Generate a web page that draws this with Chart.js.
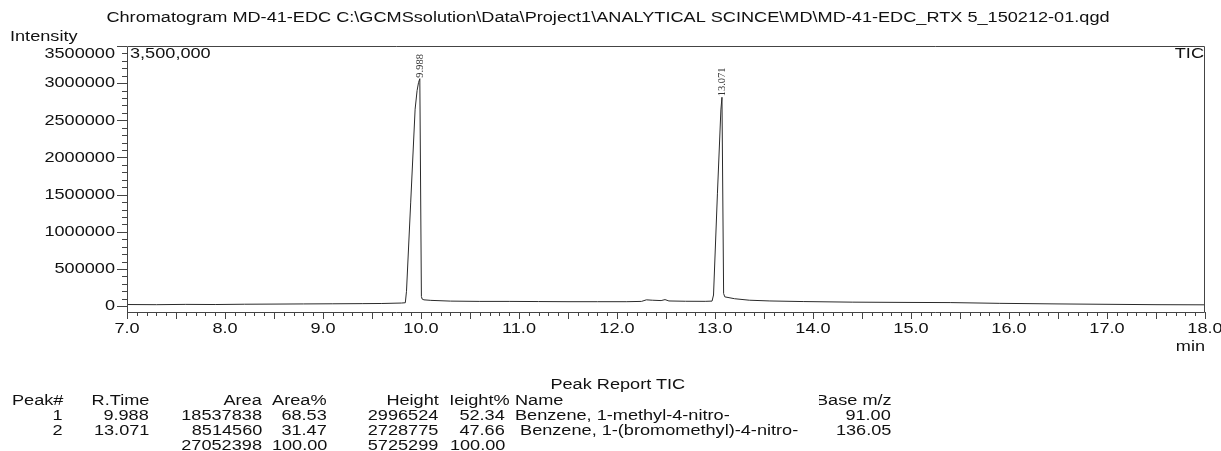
<!DOCTYPE html>
<html>
<head>
<meta charset="utf-8">
<script src="https://cdn.jsdelivr.net/npm/chart.js@4.4.1/dist/chart.umd.min.js"></script>
<style>
  html, body { margin: 0; padding: 0; background: #fff; }
  #wrap { position: relative; width: 1221px; height: 451px; overflow: hidden; }
  #c { position: absolute; left: 0; top: 0; }
  .t { position: absolute; font-family: "Liberation Sans", Arial, sans-serif; font-size: 15.5px; color: #111; white-space: pre; line-height: 16px; }
  .clip { position: absolute; overflow: hidden; height: 18px; }
</style>
</head>
<body>
<div id="wrap">
  <canvas id="c" width="1221" height="451"></canvas>
</div>
<script>
// ---------- data ----------
const chartTitle = 'Chromatogram MD-41-EDC C:\\GCMSsolution\\Data\\Project1\\ANALYTICAL SCINCE\\MD\\MD-41-EDC_RTX 5_150212-01.qgd';
const yAxisTitle = 'Intensity';
const xAxisTitle = 'min';
const scaleLabel = '3,500,000';
const traceLabel = 'TIC';

// retention time (min)
const times = [
  7.00, 7.30, 7.60, 7.90, 8.20, 8.50, 8.80, 9.10, 9.40, 9.60, 9.80, 9.84,
  9.852, 9.895, 9.940, 9.960, 9.975, 9.988, 10.004, 10.012, 10.03,
  10.10, 10.30, 10.60, 10.90, 11.20, 11.50, 11.80, 12.10, 12.25, 12.30, 12.36, 12.45, 12.49, 12.53,
  12.70, 12.90, 12.97, 12.985, 13.025, 13.060, 13.071, 13.088,
  13.10, 13.20, 13.35, 13.56, 13.90, 14.40, 15.00, 15.40, 15.90, 16.50, 17.00, 17.50, 18.00
];
// TIC intensity
const intensity = [
  22000, 20000, 24000, 22000, 26000, 28000, 30000, 32000, 34000, 36000, 42000, 46000,
  200000, 1400000, 2650000, 2900000, 3010000, 3060000, 130000, 95000, 85000,
  78000, 68000, 64000, 64000, 62000, 60000, 60000, 60000, 64000, 85000, 80000, 75000, 88000, 70000,
  66000, 65000, 68000, 150000, 1520000, 2640000, 2810000, 170000,
  125000, 100000, 80000, 70000, 62000, 54000, 50000, 48000, 38000, 30000, 25000, 20000, 18000
];

const peakTimes = [9.988, 13.071];
const peakLabels = ['9.988', '13.071'];

const xTickLabels = ['7.0','8.0','9.0','10.0','11.0','12.0','13.0','14.0','15.0','16.0','17.0','18.0'];
const yTickLabels = ['0','500000','1000000','1500000','2000000','2500000','3000000','3500000'];

// peak report table
const reportTitle = 'Peak Report TIC';
const colHeaders = ['Peak#', 'R.Time', 'Area', 'Area%', 'Height', 'Height%', 'Name', 'Base m/z'];
const peakNums = ['1', '2'];
const rTimes = ['9.988', '13.071'];
const areas = ['18537838', '8514560'];
const areaPct = ['68.53', '31.47'];
const heights = ['2996524', '2728775'];
const heightPct = ['52.34', '47.66'];
const names = ['Benzene, 1-methyl-4-nitro-', ' Benzene, 1-(bromomethyl)-4-nitro-'];
const baseMz = ['91.00', '136.05'];
const totals = ['27052398', '100.00', '5725299', '100.00'];

// ---------- drawing ----------
const SX = 1.17;
const FONT = '15.5px "Liberation Sans", Arial, sans-serif';

function stretchedText(ctx, text, x, y, align, font, sx) {
  ctx.save();
  ctx.font = font;
  ctx.translate(x, y);
  ctx.scale(sx, 1);
  ctx.textAlign = align;
  ctx.textBaseline = 'middle';
  ctx.fillText(text, 0, 0);
  ctx.restore();
}

const decor = {
  id: 'decor',
  afterDraw(chart) {
    const ctx = chart.ctx;
    const a = chart.chartArea;
    const xs = chart.scales.x, ys = chart.scales.y;
    ctx.save();
    ctx.fillStyle = '#111';
    ctx.strokeStyle = '#444';
    ctx.lineWidth = 1;
    // frame
    ctx.beginPath();
    ctx.rect(Math.round(a.left) + 0.5, Math.round(a.top) + 0.5, Math.round(a.right - a.left) - 1, Math.round(a.bottom - a.top) - 1);
    ctx.stroke();

    // y ticks
    const yMax = Number(yTickLabels[yTickLabels.length - 1]);
    for (let v = 0; v <= yMax + 1; v += 100000) {
      const py = Math.round(ys.getPixelForValue(v)) + 0.5;
      const major = (v % 500000) === 0;
      ctx.beginPath();
      ctx.moveTo(a.left, py);
      ctx.lineTo(a.left - (major ? 10 : 5), py);
      ctx.stroke();
    }
    yTickLabels.forEach(l => {
      const py = Math.max(ys.getPixelForValue(Number(l)), a.top + 8);
      stretchedText(ctx, l, a.left - 12, py, 'right', FONT, SX);
    });

    // x ticks
    const xMin = Number(xTickLabels[0]), xMaxV = Number(xTickLabels[xTickLabels.length - 1]);
    for (let k = 0; k <= Math.round((xMaxV - xMin) * 10); k++) {
      const v = xMin + k / 10;
      const px = Math.round(xs.getPixelForValue(v)) + 0.5;
      const major = (k % 5) === 0;
      ctx.beginPath();
      ctx.moveTo(px, a.bottom - 1);
      ctx.lineTo(px, a.bottom - 1 + (major ? 7 : 4));
      ctx.stroke();
    }
    xTickLabels.forEach(l => {
      const px = xs.getPixelForValue(Number(l));
      stretchedText(ctx, l, px, a.bottom + 16, 'center', FONT, SX);
    });

    // titles and in-plot labels
    stretchedText(ctx, chartTitle, 608, 18, 'center', FONT, SX);
    stretchedText(ctx, yAxisTitle, 10, 37, 'left', FONT, SX);
    stretchedText(ctx, xAxisTitle, a.right, a.bottom + 34, 'right', FONT, SX);
    stretchedText(ctx, scaleLabel, a.left + 3, a.top + 8, 'left', FONT, SX);
    stretchedText(ctx, traceLabel, a.right - 1, a.top + 8, 'right', FONT, SX);

    // peak labels (rotated)
    ctx.fillStyle = '#333';
    peakTimes.forEach((t, i) => {
      const idx = times.indexOf(t);
      const px = xs.getPixelForValue(t);
      const py = ys.getPixelForValue(intensity[idx]);
      ctx.save();
      ctx.translate(px, py - 1);
      ctx.rotate(-Math.PI / 2);
      ctx.font = '10.5px "Liberation Serif", "Times New Roman", serif';
      ctx.textAlign = 'left';
      ctx.textBaseline = 'middle';
      ctx.fillText(peakLabels[i], 0, 0);
      ctx.restore();
    });
    ctx.restore();
  }
};

new Chart(document.getElementById('c'), {
  type: 'line',
  data: {
    datasets: [{
      data: times.map((t, i) => ({ x: t, y: intensity[i] })),
      borderColor: '#2a2a2a',
      borderWidth: 1,
      pointRadius: 0,
      tension: 0,
      fill: false
    }]
  },
  options: {
    responsive: false,
    animation: false,
    events: [],
    layout: { padding: { left: 127, top: 46, right: 16, bottom: 138 } },
    plugins: { legend: { display: false }, tooltip: { enabled: false } },
    scales: {
      x: { type: 'linear', min: 7, max: 18, display: false },
      y: { type: 'linear', min: -92000, max: 3500000, display: false }
    }
  },
  plugins: [decor]
});

// ---------- peak report table (HTML text) ----------
const wrap = document.getElementById('wrap');
function put(text, x, y, align) {
  const d = document.createElement('div');
  d.className = 't';
  d.textContent = text;
  d.style.top = (y - 8) + 'px';
  if (align === 'right') {
    d.style.right = (1221 - x) + 'px';
    d.style.transformOrigin = 'right center';
  } else if (align === 'center') {
    d.style.left = x + 'px';
    d.style.transformOrigin = 'left center';
    d.style.transform = 'translateX(-50%) scaleX(' + SX + ')';
    wrap.appendChild(d);
    return d;
  } else {
    d.style.left = x + 'px';
    d.style.transformOrigin = 'left center';
  }
  d.style.transform = 'scaleX(' + SX + ')';
  wrap.appendChild(d);
  return d;
}
function putClipped(text, left, right, y) {
  const c = document.createElement('div');
  c.className = 'clip';
  c.style.left = left + 'px';
  c.style.width = (right - left) + 'px';
  c.style.top = (y - 9) + 'px';
  const d = document.createElement('div');
  d.className = 't';
  d.textContent = text;
  d.style.top = '1px';
  d.style.right = '0px';
  d.style.transformOrigin = 'right center';
  d.style.transform = 'scaleX(' + SX + ')';
  c.appendChild(d);
  wrap.appendChild(c);
}

const rowY = [384, 399.5, 414.5, 429.5, 444.5];
put(reportTitle, 608, rowY[0], 'center');
put(colHeaders[0], 12, rowY[1], 'left');
put(colHeaders[1], 149, rowY[1], 'right');
put(colHeaders[2], 262, rowY[1], 'right');
put(colHeaders[3], 327, rowY[1], 'right');
put(colHeaders[4], 439, rowY[1], 'right');
putClipped(colHeaders[5], 451, 510, rowY[1]);
put(colHeaders[6], 515, rowY[1], 'left');
putClipped(colHeaders[7], 819, 892, rowY[1]);
for (let i = 0; i < peakNums.length; i++) {
  const y = rowY[2 + i];
  put(peakNums[i], 63, y, 'right');
  put(rTimes[i], 149, y, 'right');
  put(areas[i], 262, y, 'right');
  put(areaPct[i], 327, y, 'right');
  put(heights[i], 438, y, 'right');
  put(heightPct[i], 505, y, 'right');
  put(names[i], 515, y, 'left');
  put(baseMz[i], 891, y, 'right');
}
put(totals[0], 262, rowY[4], 'right');
put(totals[1], 327, rowY[4], 'right');
put(totals[2], 438, rowY[4], 'right');
put(totals[3], 505, rowY[4], 'right');
</script>
</body>
</html>
